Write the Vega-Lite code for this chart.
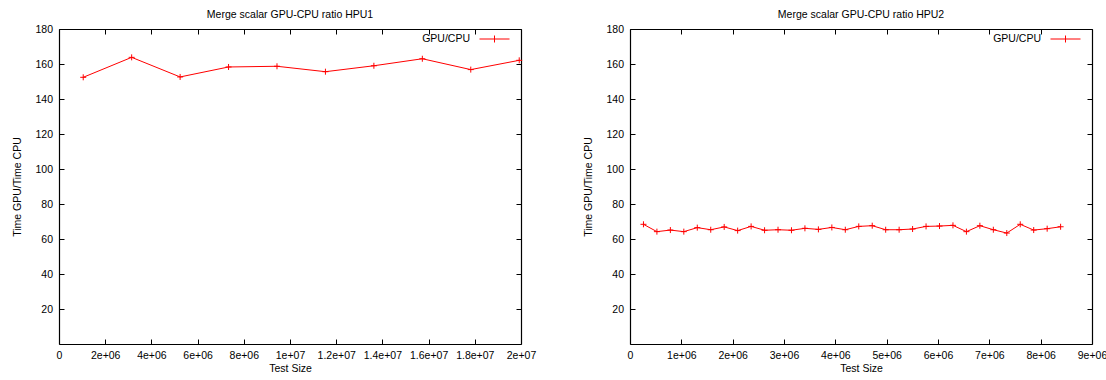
{
  "$schema": "https://vega.github.io/schema/vega-lite/v6.json",
  "background": "white",
  "padding": {"left": 12, "top": 10, "right": 5, "bottom": 5},
  "datasets": {
    "hpu1": [
      {"size": 1048576, "ratio": 152.4, "series": "GPU/CPU"},
      {"size": 3145728, "ratio": 163.8, "series": "GPU/CPU"},
      {"size": 5242880, "ratio": 152.6, "series": "GPU/CPU"},
      {"size": 7340032, "ratio": 158.3, "series": "GPU/CPU"},
      {"size": 9437184, "ratio": 158.7, "series": "GPU/CPU"},
      {"size": 11534336, "ratio": 155.6, "series": "GPU/CPU"},
      {"size": 13631488, "ratio": 159.0, "series": "GPU/CPU"},
      {"size": 15728640, "ratio": 163.0, "series": "GPU/CPU"},
      {"size": 17825792, "ratio": 156.8, "series": "GPU/CPU"},
      {"size": 19922944, "ratio": 162.1, "series": "GPU/CPU"}
    ],
    "hpu2": [
      {"size": 262144, "ratio": 68.4, "series": "GPU/CPU"},
      {"size": 524288, "ratio": 64.2, "series": "GPU/CPU"},
      {"size": 786432, "ratio": 65.1, "series": "GPU/CPU"},
      {"size": 1048576, "ratio": 64.2, "series": "GPU/CPU"},
      {"size": 1310720, "ratio": 66.5, "series": "GPU/CPU"},
      {"size": 1572864, "ratio": 65.3, "series": "GPU/CPU"},
      {"size": 1835008, "ratio": 66.9, "series": "GPU/CPU"},
      {"size": 2097152, "ratio": 64.8, "series": "GPU/CPU"},
      {"size": 2359296, "ratio": 67.2, "series": "GPU/CPU"},
      {"size": 2621440, "ratio": 65.0, "series": "GPU/CPU"},
      {"size": 2883584, "ratio": 65.3, "series": "GPU/CPU"},
      {"size": 3145728, "ratio": 65.0, "series": "GPU/CPU"},
      {"size": 3407872, "ratio": 66.1, "series": "GPU/CPU"},
      {"size": 3670016, "ratio": 65.5, "series": "GPU/CPU"},
      {"size": 3932160, "ratio": 66.6, "series": "GPU/CPU"},
      {"size": 4194304, "ratio": 65.3, "series": "GPU/CPU"},
      {"size": 4456448, "ratio": 67.2, "series": "GPU/CPU"},
      {"size": 4718592, "ratio": 67.6, "series": "GPU/CPU"},
      {"size": 4980736, "ratio": 65.3, "series": "GPU/CPU"},
      {"size": 5242880, "ratio": 65.3, "series": "GPU/CPU"},
      {"size": 5505024, "ratio": 65.7, "series": "GPU/CPU"},
      {"size": 5767168, "ratio": 67.2, "series": "GPU/CPU"},
      {"size": 6029312, "ratio": 67.4, "series": "GPU/CPU"},
      {"size": 6291456, "ratio": 67.8, "series": "GPU/CPU"},
      {"size": 6553600, "ratio": 64.2, "series": "GPU/CPU"},
      {"size": 6815744, "ratio": 67.6, "series": "GPU/CPU"},
      {"size": 7077888, "ratio": 65.3, "series": "GPU/CPU"},
      {"size": 7340032, "ratio": 63.4, "series": "GPU/CPU"},
      {"size": 7602176, "ratio": 68.4, "series": "GPU/CPU"},
      {"size": 7864320, "ratio": 65.1, "series": "GPU/CPU"},
      {"size": 8126464, "ratio": 65.9, "series": "GPU/CPU"},
      {"size": 8388608, "ratio": 67.0, "series": "GPU/CPU"}
    ]
  },
  "spacing": 109,
  "bounds": "flush",
  "resolve": {"scale": {"x": "independent", "y": "independent", "color": "independent"}, "legend": {"color": "independent"}},
  "hconcat": [
    {
      "title": "Merge scalar GPU-CPU ratio HPU1",
      "width": 462,
      "height": 315,
      "data": {"name": "hpu1"},
      "layer": [
        {
          "mark": {"type": "line", "strokeWidth": 1, "point": {"shape": "M-1,0H1M0,-1V1", "size": 36, "filled": false, "strokeWidth": 1}},
          "encoding": {
            "x": {"field": "size", "type": "quantitative", "scale": {"domain": [0, 20000000], "nice": false, "zero": false},
                  "axis": {"title": "Test Size", "values": [0, 2000000, 4000000, 6000000, 8000000, 10000000, 12000000, 14000000, 16000000, 18000000, 20000000],
                           "labelExpr": "datum.value == 0 ? '0' : replace(format(datum.value, '~e'), 'e+', 'e+0')", "labelPadding": 11, "titlePadding": 3}},
            "y": {"field": "ratio", "type": "quantitative", "scale": {"domain": [0, 180], "nice": false, "zero": false},
                  "axis": {"title": "Time GPU/Time CPU", "values": [20, 40, 60, 80, 100, 120, 140, 160, 180], "labelPadding": 11.5, "titlePadding": 12}},
            "color": {"field": "series", "type": "nominal", "scale": {"range": ["#ff0000"]}, "legend": {"orient": "none", "legendX": 420, "legendY": -5.5}}
          }
        },
        {
          "mark": {"type": "point", "opacity": 0},
          "encoding": {
            "x": {"field": "size", "type": "quantitative",
                  "axis": {"orient": "top", "labels": false, "title": null, "values": [0, 2000000, 4000000, 6000000, 8000000, 10000000, 12000000, 14000000, 16000000, 18000000, 20000000]}},
            "y": {"field": "ratio", "type": "quantitative",
                  "axis": {"orient": "right", "labels": false, "title": null, "values": [20, 40, 60, 80, 100, 120, 140, 160, 180]}}
          }
        }
      ],
      "resolve": {"axis": {"x": "independent", "y": "independent"}}
    },
    {
      "title": "Merge scalar GPU-CPU ratio HPU2",
      "width": 462,
      "height": 315,
      "data": {"name": "hpu2"},
      "layer": [
        {
          "mark": {"type": "line", "strokeWidth": 1, "point": {"shape": "M-1,0H1M0,-1V1", "size": 36, "filled": false, "strokeWidth": 1}},
          "encoding": {
            "x": {"field": "size", "type": "quantitative", "scale": {"domain": [0, 9000000], "nice": false, "zero": false},
                  "axis": {"title": "Test Size", "values": [0, 1000000, 2000000, 3000000, 4000000, 5000000, 6000000, 7000000, 8000000, 9000000],
                           "labelExpr": "datum.value == 0 ? '0' : replace(format(datum.value, '~e'), 'e+', 'e+0')", "labelPadding": 11, "titlePadding": 3}},
            "y": {"field": "ratio", "type": "quantitative", "scale": {"domain": [0, 180], "nice": false, "zero": false},
                  "axis": {"title": "Time GPU/Time CPU", "values": [20, 40, 60, 80, 100, 120, 140, 160, 180], "labelPadding": 11.5, "titlePadding": 12}},
            "color": {"field": "series", "type": "nominal", "scale": {"range": ["#ff0000"]}, "legend": {"orient": "none", "legendX": 420, "legendY": -5.5}}
          }
        },
        {
          "mark": {"type": "point", "opacity": 0},
          "encoding": {
            "x": {"field": "size", "type": "quantitative",
                  "axis": {"orient": "top", "labels": false, "title": null, "values": [0, 1000000, 2000000, 3000000, 4000000, 5000000, 6000000, 7000000, 8000000, 9000000]}},
            "y": {"field": "ratio", "type": "quantitative",
                  "axis": {"orient": "right", "labels": false, "title": null, "values": [20, 40, 60, 80, 100, 120, 140, 160, 180]}}
          }
        }
      ],
      "resolve": {"axis": {"x": "independent", "y": "independent"}}
    }
  ],
  "config": {
    "font": "Liberation Sans",
    "view": {"stroke": null},
    "title": {"font": "Liberation Sans", "fontSize": 10.5, "fontWeight": "normal", "color": "#000000", "offset": 3, "anchor": "middle"},
    "axis": {
      "grid": false,
      "domainColor": "#000000",
      "domainWidth": 1.2,
      "tickColor": "#000000",
      "tickWidth": 1,
      "tickSize": -5,
      "labelFont": "Liberation Sans",
      "labelFontSize": 10.5,
      "labelColor": "#000000",
      "labelFlush": false,
      "labelOverlap": false,
      "labelBound": false,
      "titleFont": "Liberation Sans",
      "titleFontSize": 10.5,
      "titleFontWeight": "normal",
      "titleColor": "#000000",
      "titlePadding": 6
    },
    "legend": {
      "title": null,
      "padding": 0,
      "symbolType": "M-1,0H1M0,-0.233V0.233",
      "symbolSize": 900,
      "symbolStrokeWidth": 1,
      "symbolStrokeColor": "#ff0000",
      "labelAlign": "right",
      "labelOffset": -40,
      "labelFont": "Liberation Sans",
      "labelFontSize": 10.5,
      "labelColor": "#000000"
    }
  }
}
